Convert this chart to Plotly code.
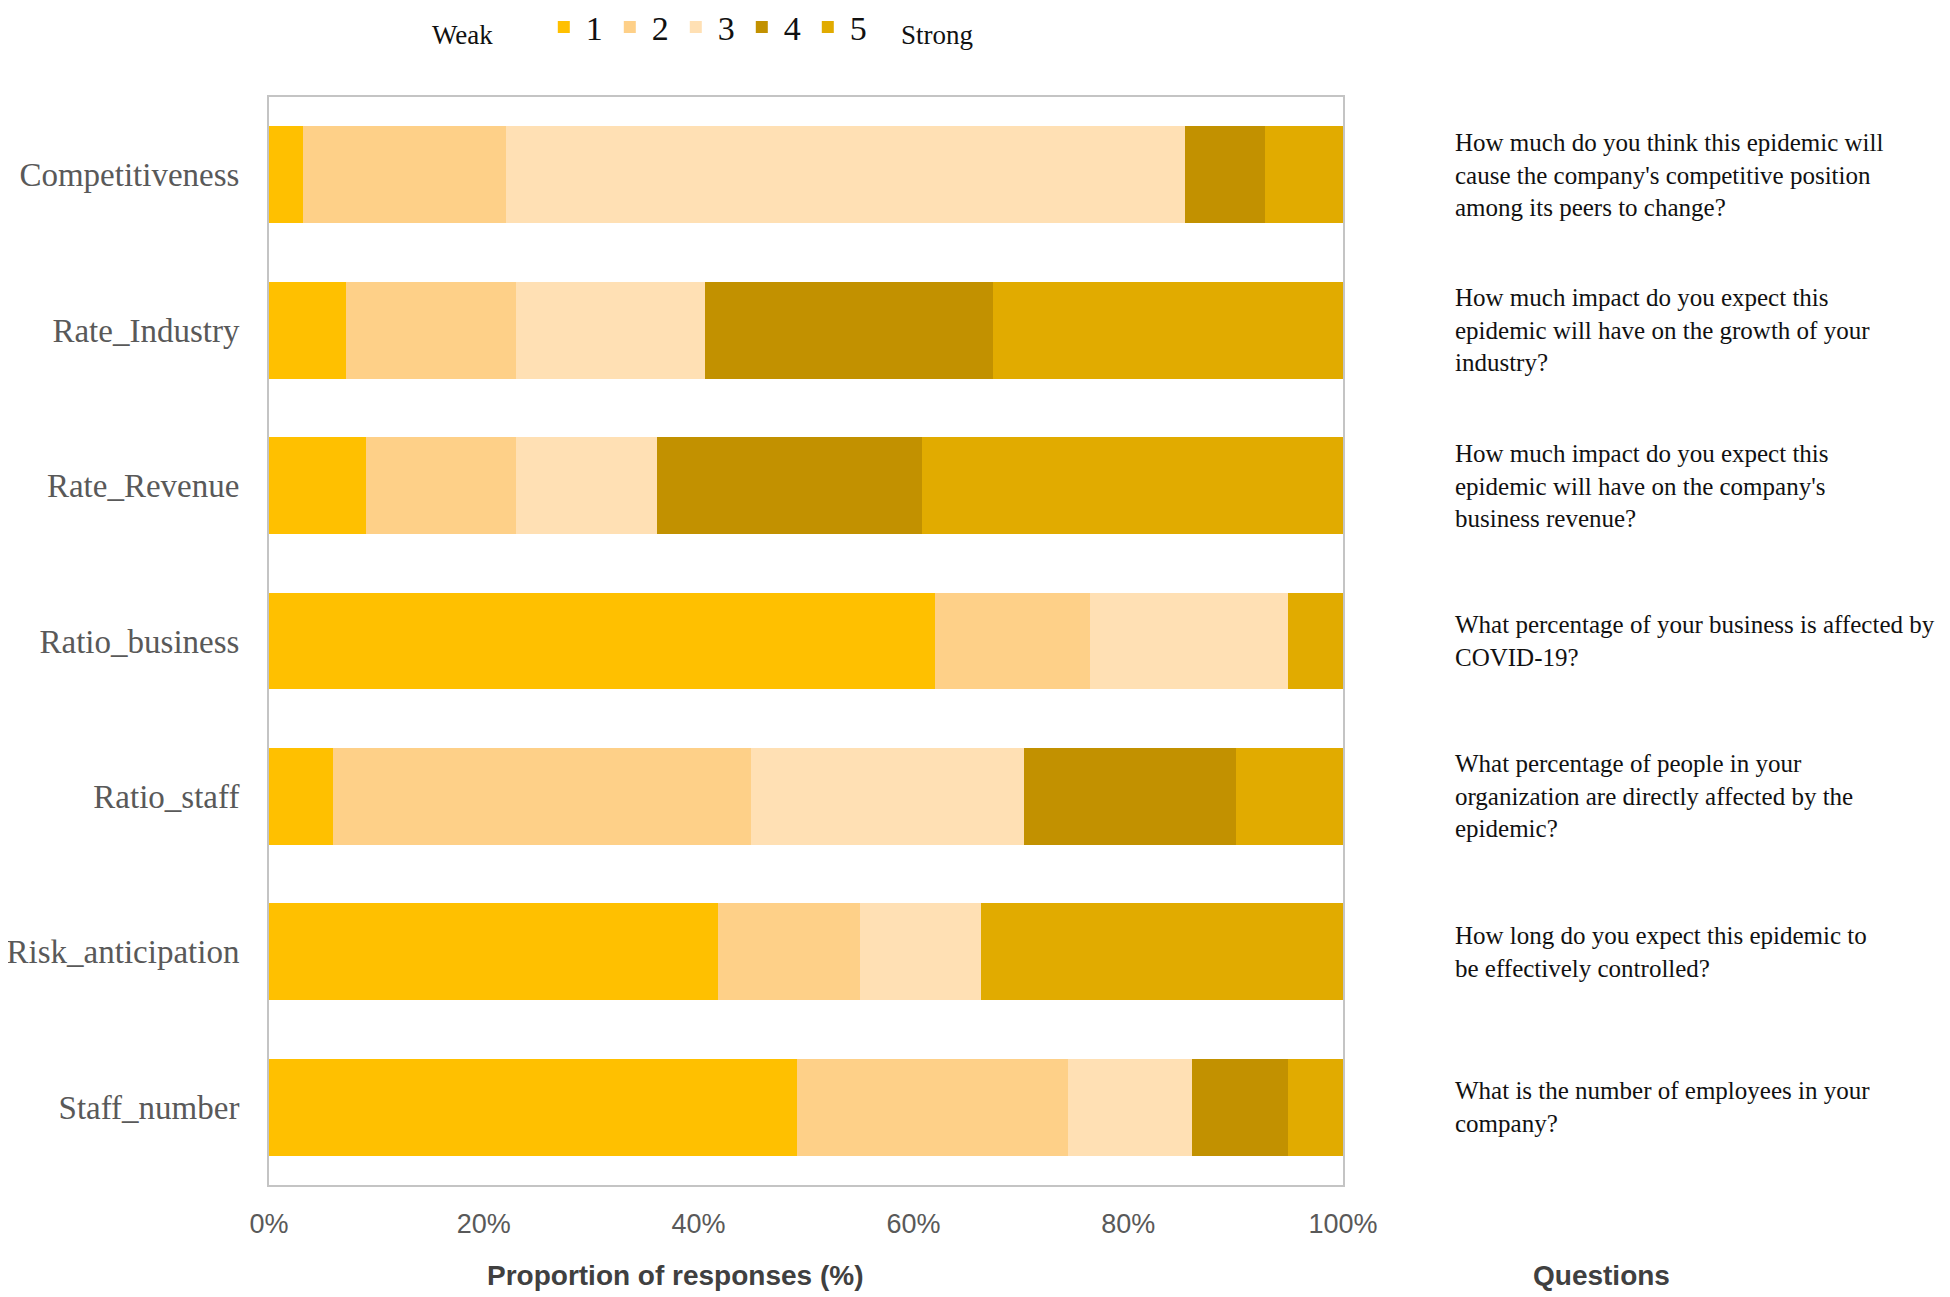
import plotly.graph_objects as go

# categories (top to bottom) and the share of answers per level, in %
categories = ["Competitiveness", "Rate_Industry", "Rate_Revenue", "Ratio_business",
              "Ratio_staff", "Risk_anticipation", "Staff_number"]
level_1 = [3.2, 7.2, 9.0, 62.0, 6.0, 41.8, 49.2]
level_2 = [18.9, 15.8, 14.0, 14.4, 38.9, 13.2, 25.2]
level_3 = [63.2, 17.6, 13.1, 18.5, 25.4, 11.3, 11.5]
level_4 = [7.4, 26.8, 24.7, 0.0, 19.7, 0.0, 9.0]
level_5 = [7.3, 32.6, 39.2, 5.1, 10.0, 33.7, 5.1]
level_names = ["1", "2", "3", "4", "5"]
level_colors = ["#FFC000", "#FED088", "#FFE0B4", "#C29100", "#E1AB00"]

x_ticks = [0, 20, 40, 60, 80, 100]
x_tick_labels = ["0%", "20%", "40%", "60%", "80%", "100%"]

questions = [
    "How much do you think this epidemic will<br>cause the company's competitive position<br>among its peers to change?",
    "How much impact do you expect this<br>epidemic will have on the growth of your<br>industry?",
    "How much impact do you expect this<br>epidemic will have on the company's<br>business revenue?",
    "What percentage of your business is affected by<br>COVID-19?",
    "What percentage of people in your<br>organization are directly affected by the<br>epidemic?",
    "How long do you expect this epidemic to<br>be effectively controlled?",
    "What is the number of employees in your<br>company?",
]

serif = "Liberation Serif, Times New Roman, serif"
sans = "Liberation Sans, Arial, sans-serif"

fig = go.Figure()
for name, vals, col in zip(level_names, [level_1, level_2, level_3, level_4, level_5], level_colors):
    fig.add_trace(go.Bar(y=categories, x=vals, name=name, orientation="h",
                         marker=dict(color=col, line=dict(width=0))))

# question text to the right of each bar
for cat, q in zip(categories, questions):
    fig.add_annotation(x=1.102, xref="paper", y=cat, yref="y", text=q, showarrow=False,
                       xanchor="left", yanchor="middle", align="left",
                       font=dict(family=serif, size=25, color="#111111"))

fig.add_annotation(x=0.378, xref="paper", y=-0.0836, yref="paper", text="<b>Proportion of responses (%)</b>",
                   showarrow=False, xanchor="center", yanchor="middle",
                   font=dict(family=sans, size=28, color="#404040"))
fig.add_annotation(x=1.241, xref="paper", y=-0.0836, yref="paper", text="<b>Questions</b>",
                   showarrow=False, xanchor="center", yanchor="middle",
                   font=dict(family=sans, size=28, color="#404040"))
fig.add_annotation(x=0.18, xref="paper", y=1.057, yref="paper", text="Weak",
                   showarrow=False, xanchor="center", yanchor="middle",
                   font=dict(family=serif, size=27, color="#111111"))
fig.add_annotation(x=0.622, xref="paper", y=1.057, yref="paper", text="Strong",
                   showarrow=False, xanchor="center", yanchor="middle",
                   font=dict(family=serif, size=27, color="#111111"))

fig.update_layout(
    width=1950, height=1297,
    barmode="stack", bargap=0.376,
    plot_bgcolor="white", paper_bgcolor="white",
    margin=dict(l=261, r=615, t=89, b=120, autoexpand=False),
    showlegend=True,
    legend=dict(orientation="h", x=0.254, xanchor="left", y=1.064, yanchor="middle",
                font=dict(family=serif, size=34, color="#111111"),
                itemwidth=34, traceorder="normal", bgcolor="rgba(0,0,0,0)"),
)
fig.update_xaxes(range=[0, 100], tickmode="array", tickvals=x_ticks, ticktext=x_tick_labels,
                 showgrid=False, zeroline=False, showline=True, mirror=True, automargin=False,
                 linecolor="#C4C4C4", linewidth=2, ticks="", ticklabelstandoff=14,
                 tickfont=dict(family=sans, size=27, color="#595959"))
fig.update_yaxes(categoryorder="array", categoryarray=categories[::-1], automargin=False,
                 showgrid=False, zeroline=False, showline=True, mirror=True,
                 linecolor="#C4C4C4", linewidth=2, ticks="", ticklabelstandoff=21,
                 tickfont=dict(family=serif, size=33, color="#595959"))

fig.write_html("out.html")
